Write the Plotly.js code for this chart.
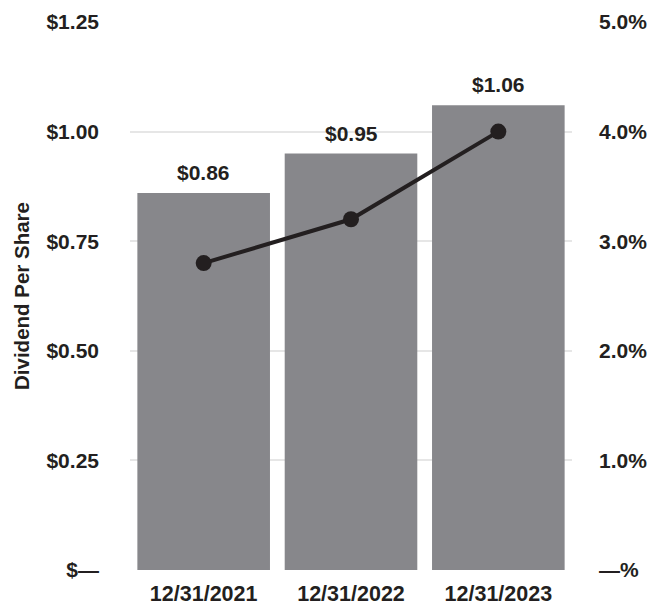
<!DOCTYPE html>
<html>
<head>
<meta charset="utf-8">
<script src="https://cdn.plot.ly/plotly-3.0.1.min.js"></script>
<style>html,body{margin:0;padding:0;background:#fff;}#chart{width:650px;height:607px;}</style>
</head>
<body>
<div id="chart"></div>
<script>
const categories = ['12/31/2021', '12/31/2022', '12/31/2023'];
const dividendPerShare = [0.86, 0.95, 1.06];
const dividendLabels = ['$0.86', '$0.95', '$1.06'];
const dividendYield = [0.028, 0.032, 0.040];
const leftTickVals = [0, 0.25, 0.5, 0.75, 1.0, 1.25];
const leftTickText = ['$—', '$0.25', '$0.50', '$0.75', '$1.00', '$1.25'];
const rightTickVals = [0, 0.01, 0.02, 0.03, 0.04, 0.05];
const rightTickText = ['—%', '1.0%', '2.0%', '3.0%', '4.0%', '5.0%'];

const FONT = 'Liberation Sans, Arial, sans-serif';
const INK = '#231f20';

const traces = [
  {
    type: 'bar', x: categories, y: dividendPerShare,
    marker: {color: '#87878b'}, hoverinfo: 'none', showlegend: false
  },
  {
    type: 'scatter', mode: 'lines+markers', x: categories, y: dividendYield, yaxis: 'y2',
    line: {color: INK, width: 4}, marker: {color: INK, size: 16},
    hoverinfo: 'none', showlegend: false
  }
];

const annotations = categories.map((c, i) => ({
  x: c, y: dividendPerShare[i], xref: 'x', yref: 'y',
  text: dividendLabels[i], showarrow: false, yanchor: 'bottom', yshift: 7,
  font: {family: FONT, size: 21, color: INK, weight: 700}
}));

const layout = {
  width: 650, height: 607,
  margin: {l: 130, r: 78, t: 22, b: 37},
  paper_bgcolor: '#fff', plot_bgcolor: '#fff',
  bargap: 0.1,
  font: {family: FONT, color: INK, weight: 700},
  xaxis: {
    type: 'category', showgrid: false, zeroline: false, showline: false, ticks: '',
    tickfont: {family: FONT, size: 21.5, color: INK, weight: 700},
    ticklabelstandoff: 8
  },
  yaxis: {
    range: [0, 1.25], tickvals: leftTickVals, ticktext: leftTickText,
    showgrid: true, gridcolor: '#e6e6e6', gridwidth: 2, zeroline: false, showline: false, ticks: '',
    tickfont: {family: FONT, size: 21, color: INK, weight: 700},
    ticklabelstandoff: 30,
    title: {text: 'Dividend Per Share', font: {family: FONT, size: 20.5, color: INK, weight: 700}, standoff: 11}
  },
  yaxis2: {
    overlaying: 'y', side: 'right', range: [0, 0.05],
    tickvals: rightTickVals, ticktext: rightTickText,
    showgrid: false, zeroline: false, showline: false, ticks: '',
    tickfont: {family: FONT, size: 21, color: INK, weight: 700},
    ticklabelstandoff: 26
  },
  annotations: annotations
};

Plotly.newPlot('chart', traces, layout, {displayModeBar: false, staticPlot: true});
</script>
</body>
</html>
